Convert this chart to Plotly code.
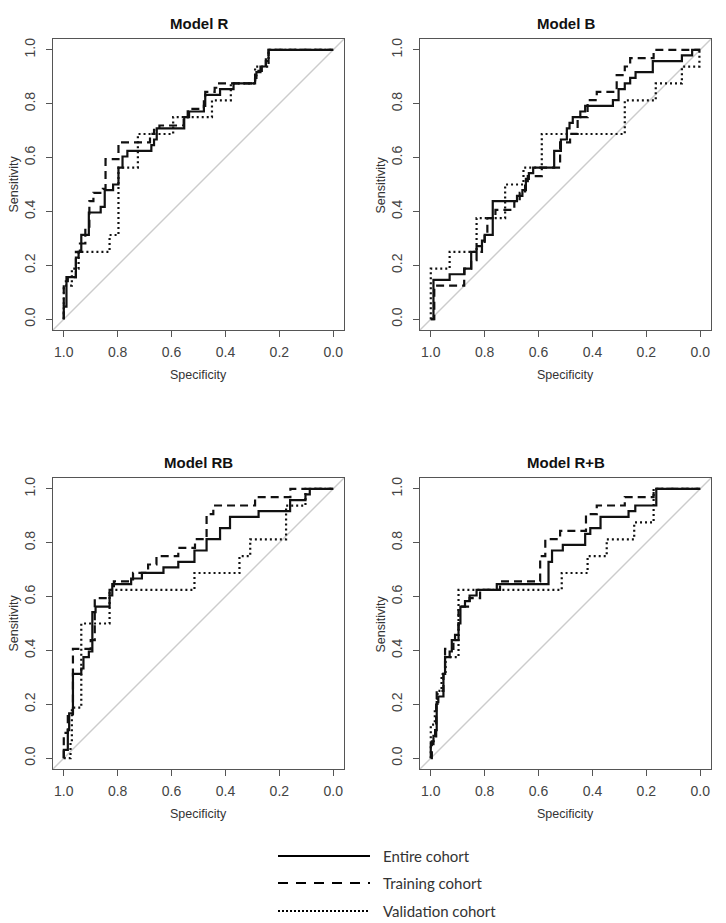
import plotly.graph_objects as go

# ---------------- data (specificity, sensitivity step points) ----------------
panel_titles = ["Model R", "Model B", "Model RB", "Model R+B"]
series_names = ["Entire cohort", "Training cohort", "Validation cohort"]
tick_values = [0.0, 0.2, 0.4, 0.6, 0.8, 1.0]
tick_labels = ["0.0", "0.2", "0.4", "0.6", "0.8", "1.0"]

# Model R
R_entire_spec = [1.0, 1.0, 0.99, 0.955, 0.945, 0.935, 0.907, 0.863, 0.848, 0.817, 0.797, 0.782, 0.764, 0.675, 0.665, 0.655, 0.553, 0.535, 0.48, 0.475, 0.42, 0.37, 0.29, 0.285, 0.27, 0.25, 0.24, 0.0]
R_entire_sens = [0.0, 0.047, 0.156, 0.229, 0.25, 0.313, 0.396, 0.417, 0.479, 0.5, 0.563, 0.604, 0.625, 0.646, 0.667, 0.708, 0.75, 0.771, 0.792, 0.833, 0.854, 0.875, 0.896, 0.917, 0.938, 0.958, 1.0, 1.0]
R_train_spec = [1.0, 1.0, 0.985, 0.955, 0.94, 0.92, 0.905, 0.89, 0.855, 0.845, 0.797, 0.68, 0.665, 0.645, 0.555, 0.54, 0.48, 0.475, 0.44, 0.43, 0.29, 0.285, 0.265, 0.25, 0.24, 0.0]
R_train_sens = [0.0, 0.141, 0.156, 0.25, 0.281, 0.344, 0.438, 0.469, 0.484, 0.594, 0.656, 0.688, 0.703, 0.719, 0.75, 0.781, 0.813, 0.844, 0.859, 0.875, 0.906, 0.922, 0.938, 0.969, 1.0, 1.0]
R_valid_spec = [1.0, 1.0, 0.97, 0.945, 0.83, 0.797, 0.725, 0.594, 0.45, 0.38, 0.29, 0.24, 0.0]
R_valid_sens = [0.0, 0.125, 0.1875, 0.25, 0.3125, 0.5625, 0.6875, 0.75, 0.8125, 0.875, 0.9375, 1.0, 1.0]

# Model B
B_entire_spec = [1.0, 0.99, 0.93, 0.875, 0.85, 0.83, 0.81, 0.8, 0.77, 0.68, 0.66, 0.647, 0.636, 0.62, 0.542, 0.517, 0.495, 0.485, 0.473, 0.445, 0.427, 0.324, 0.303, 0.28, 0.26, 0.24, 0.176, 0.068, 0.03, 0.0]
B_entire_sens = [0.0, 0.146, 0.167, 0.188, 0.25, 0.271, 0.292, 0.313, 0.438, 0.458, 0.479, 0.521, 0.542, 0.563, 0.625, 0.667, 0.708, 0.729, 0.75, 0.771, 0.792, 0.813, 0.854, 0.875, 0.896, 0.917, 0.958, 0.979, 1.0, 1.0]
B_train_spec = [1.0, 0.987, 0.876, 0.85, 0.83, 0.81, 0.8, 0.79, 0.76, 0.69, 0.67, 0.65, 0.64, 0.588, 0.52, 0.483, 0.455, 0.418, 0.384, 0.31, 0.28, 0.26, 0.173, 0.0]
B_train_sens = [0.0, 0.125, 0.188, 0.219, 0.25, 0.281, 0.313, 0.375, 0.406, 0.438, 0.469, 0.5, 0.531, 0.563, 0.656, 0.688, 0.75, 0.813, 0.844, 0.906, 0.938, 0.969, 1.0, 1.0]
B_valid_spec = [1.0, 1.0, 0.93, 0.83, 0.724, 0.656, 0.588, 0.28, 0.165, 0.068, 0.003, 0.0]
B_valid_sens = [0.0, 0.1875, 0.25, 0.375, 0.5, 0.5625, 0.6875, 0.8125, 0.875, 0.9375, 1.0, 1.0]

# Model RB
RB_entire_spec = [1.0, 1.0, 0.985, 0.98, 0.966, 0.935, 0.927, 0.907, 0.894, 0.882, 0.83, 0.82, 0.75, 0.71, 0.63, 0.575, 0.515, 0.47, 0.42, 0.383, 0.277, 0.16, 0.103, 0.087, 0.0]
RB_entire_sens = [0.0, 0.031, 0.104, 0.167, 0.313, 0.333, 0.375, 0.396, 0.542, 0.563, 0.604, 0.646, 0.667, 0.688, 0.708, 0.729, 0.771, 0.813, 0.854, 0.896, 0.917, 0.958, 0.979, 1.0, 1.0]
RB_train_spec = [1.0, 1.0, 0.985, 0.966, 0.9, 0.885, 0.83, 0.814, 0.743, 0.687, 0.656, 0.575, 0.513, 0.47, 0.445, 0.29, 0.159, 0.0]
RB_train_sens = [0.0, 0.094, 0.156, 0.406, 0.438, 0.594, 0.625, 0.656, 0.688, 0.719, 0.75, 0.781, 0.813, 0.906, 0.938, 0.969, 1.0, 1.0]
RB_valid_spec = [1.0, 0.975, 0.97, 0.935, 0.83, 0.515, 0.348, 0.308, 0.175, 0.103, 0.0]
RB_valid_sens = [0.0, 0.0625, 0.1875, 0.5, 0.625, 0.6875, 0.75, 0.8125, 0.9375, 1.0, 1.0]

# Model R+B
RpB_entire_spec = [1.0, 1.0, 0.99, 0.984, 0.978, 0.972, 0.953, 0.947, 0.93, 0.922, 0.91, 0.897, 0.89, 0.873, 0.856, 0.83, 0.755, 0.563, 0.55, 0.51, 0.427, 0.408, 0.37, 0.266, 0.241, 0.163, 0.0]
RpB_entire_sens = [0.0, 0.052, 0.083, 0.104, 0.208, 0.229, 0.313, 0.375, 0.396, 0.438, 0.458, 0.5, 0.563, 0.583, 0.604, 0.625, 0.646, 0.729, 0.771, 0.792, 0.833, 0.854, 0.896, 0.917, 0.938, 1.0, 1.0]
RpB_train_spec = [1.0, 0.996, 0.98, 0.978, 0.953, 0.947, 0.916, 0.897, 0.856, 0.817, 0.743, 0.594, 0.575, 0.52, 0.424, 0.384, 0.28, 0.173, 0.0]
RpB_train_sens = [0.0, 0.063, 0.219, 0.25, 0.313, 0.406, 0.438, 0.563, 0.594, 0.625, 0.656, 0.75, 0.813, 0.844, 0.906, 0.938, 0.969, 1.0, 1.0]
RpB_valid_spec = [1.0, 1.0, 0.985, 0.975, 0.96, 0.945, 0.897, 0.514, 0.418, 0.347, 0.245, 0.173, 0.0]
RpB_valid_sens = [0.0, 0.125, 0.1875, 0.25, 0.3125, 0.375, 0.625, 0.6875, 0.75, 0.8125, 0.875, 1.0, 1.0]

# ---------------- layout / styling ----------------
W, H = 726, 923
FONT = "Liberation Sans, Arial, sans-serif"
AX_MIN, AX_MAX = -0.04, 1.04

panels = [
    [(R_entire_spec, R_entire_sens), (R_train_spec, R_train_sens), (R_valid_spec, R_valid_sens)],
    [(B_entire_spec, B_entire_sens), (B_train_spec, B_train_sens), (B_valid_spec, B_valid_sens)],
    [(RB_entire_spec, RB_entire_sens), (RB_train_spec, RB_train_sens), (RB_valid_spec, RB_valid_sens)],
    [(RpB_entire_spec, RpB_entire_sens), (RpB_train_spec, RpB_train_sens), (RpB_valid_spec, RpB_valid_sens)],
]
line_styles = [
    dict(color="#111", width=2.2, dash="solid"),
    dict(color="#111", width=2.2, dash="8px,5px"),
    dict(color="#111", width=2.2, dash="2px,3px"),
]

# panel boxes in pixels (left, right, top, bottom)
col_px = [(53, 344), (420, 711)]
row_px = [(39, 330), (478, 769)]

fig = go.Figure()
annotations = []
shapes = []

for i, series in enumerate(panels):
    r, c = divmod(i, 2)
    xl, xr = col_px[c]
    yt, yb = row_px[r]
    ax = "" if i == 0 else str(i + 1)
    xref, yref = "x" + ax, "y" + ax

    # diagonal reference line
    shapes.append(dict(type="line", xref=xref, yref=yref,
                       x0=AX_MAX, y0=1 - AX_MAX, x1=AX_MIN, y1=1 - AX_MIN,
                       line=dict(color="#cccccc", width=1.4), layer="below"))

    for k, (sp, se) in enumerate(series):
        fig.add_trace(go.Scatter(x=sp, y=se, mode="lines", line_shape="hv",
                                 line=line_styles[k], name=series_names[k],
                                 showlegend=False, xaxis=xref, yaxis=yref,
                                 hoverinfo="skip"))

    axis_common = dict(showline=True, mirror=True, linecolor="#555", linewidth=1.4,
                       ticks="outside", ticklen=6, tickcolor="#555", tickwidth=1.3,
                       tickvals=tick_values, ticktext=tick_labels,
                       showgrid=False, zeroline=False,
                       tickfont=dict(family=FONT, size=14, color="#444"))
    fig.layout["xaxis" + ax] = dict(axis_common, range=[AX_MAX, AX_MIN],
                                    domain=[xl / W, xr / W], anchor=yref,
                                    ticklabelstandoff=3)
    fig.layout["yaxis" + ax] = dict(axis_common, range=[AX_MIN, AX_MAX],
                                    domain=[1 - yb / H, 1 - yt / H], anchor=xref,
                                    tickangle=-90, ticklabelstandoff=5)

    cx = (xl + xr) / 2 / W
    annotations.append(dict(text="<b>" + panel_titles[i] + "</b>", x=cx, y=1 - (yt - 15) / H,
                            xref="paper", yref="paper", showarrow=False,
                            xanchor="center", yanchor="middle",
                            font=dict(family=FONT, size=15, color="#111")))
    annotations.append(dict(text="Specificity", x=cx, y=1 - (yb + 45) / H,
                            xref="paper", yref="paper", showarrow=False,
                            xanchor="center", yanchor="middle",
                            font=dict(family=FONT, size=12.5, color="#333")))
    annotations.append(dict(text="Sensitivity", x=(xl - 40) / W, y=1 - (yt + yb) / 2 / H,
                            xref="paper", yref="paper", showarrow=False, textangle=-90,
                            xanchor="center", yanchor="middle",
                            font=dict(family=FONT, size=12.5, color="#333")))

# ---------------- legend (drawn manually) ----------------
legend_rows_px = [856, 883, 911]
legend_dash = ["solid", "10px,8px", "2px,2px"]
for k, name in enumerate(series_names):
    yy = 1 - legend_rows_px[k] / H
    shapes.append(dict(type="line", xref="paper", yref="paper",
                       x0=278 / W, x1=370 / W, y0=yy, y1=yy,
                       line=dict(color="black", width=2.2, dash=legend_dash[k])))
    annotations.append(dict(text=name, x=381 / W, y=yy, xref="paper", yref="paper",
                            showarrow=False, xanchor="left", yanchor="middle",
                            font=dict(family="Lato, Open Sans, sans-serif", size=15, color="#333")))

fig.update_layout(width=W, height=H, margin=dict(l=0, r=0, t=0, b=0),
                  paper_bgcolor="white", plot_bgcolor="white",
                  shapes=shapes, annotations=annotations, showlegend=False)

fig.write_html("out.html")
